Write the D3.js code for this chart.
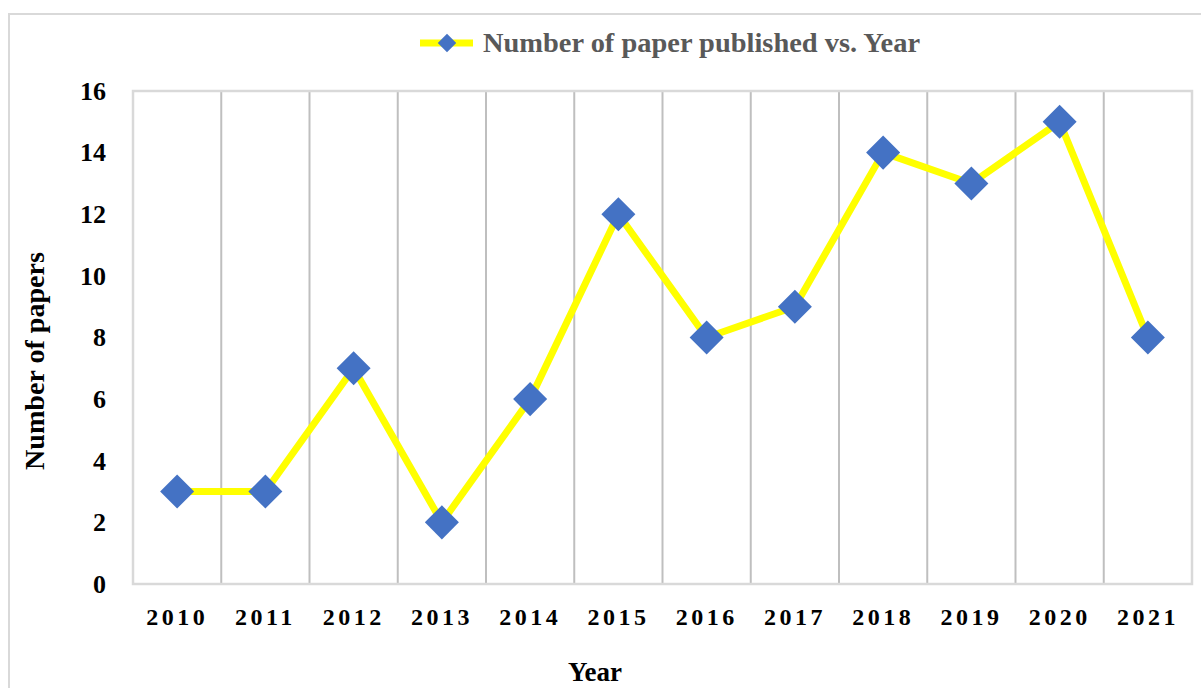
<!DOCTYPE html>
<html>
<head>
<meta charset="utf-8">
<script src="https://cdn.jsdelivr.net/npm/d3@7"></script>
<style>
  body { margin: 0; background: #fff; }
  text { font-family: "Liberation Serif", "DejaVu Serif", serif; font-weight: bold; }
</style>
</head>
<body>
<script>
var years = ['2010', '2011', '2012', '2013', '2014', '2015', '2016', '2017', '2018', '2019', '2020', '2021'];
var papers = [3, 3, 7, 2, 6, 12, 8, 9, 14, 13, 15, 8];
var yTicks = [0, 2, 4, 6, 8, 10, 12, 14, 16];
var seriesName = 'Number of paper published vs. Year';

var scr = { w: 1201, h: 688 };
var plot = { left: 133, right: 1192, top: 91, bottom: 584 }; // plot area box

var svg = d3.select('body')
            .append('svg')
            .attr('width', scr.w)
            .attr('height', scr.h);

// outer chart border
svg.append('rect')
   .attr('x', 9).attr('y', 14)
   .attr('width', 1210).attr('height', 700)
   .attr('fill', 'none')
   .attr('stroke', '#d9d9d9')
   .attr('stroke-width', 2);

var xScale = d3.scaleBand()
               .domain(years)
               .range([plot.left, plot.right]);

var yScale = d3.scaleLinear()
               .domain([0, 16])
               .range([plot.bottom, plot.top]);

// vertical gridlines between categories
svg.append('g')
   .selectAll('line')
   .data(years.slice(1))
   .enter()
   .append('line')
   .attr('x1', function(d){ return xScale(d); })
   .attr('x2', function(d){ return xScale(d); })
   .attr('y1', plot.top)
   .attr('y2', plot.bottom)
   .attr('stroke', '#bfbfbf')
   .attr('stroke-width', 2);

// plot area border
svg.append('rect')
   .attr('x', plot.left).attr('y', plot.top)
   .attr('width', plot.right - plot.left)
   .attr('height', plot.bottom - plot.top)
   .attr('fill', 'none')
   .attr('stroke', '#d9d9d9')
   .attr('stroke-width', 2.5);

// y axis labels
var yAxis = d3.axisLeft(yScale)
              .tickValues(yTicks)
              .tickSize(0)
              .tickPadding(27);
var yG = svg.append('g')
            .attr('transform', 'translate(' + plot.left + ',0)')
            .call(yAxis);
yG.select('.domain').remove();
yG.selectAll('text')
  .style('font-size', '26px')
  .attr('fill', '#000');

// x axis labels
var xAxis = d3.axisBottom(xScale)
              .tickSize(0)
              .tickPadding(24);
var xG = svg.append('g')
            .attr('transform', 'translate(0,' + plot.bottom + ')')
            .call(xAxis);
xG.select('.domain').remove();
xG.selectAll('text')
  .style('font-size', '24px')
  .style('letter-spacing', '3.5px')
  .attr('fill', '#000');

var cx = function(d, i){ return xScale(years[i]) + xScale.bandwidth() / 2; };

var line = d3.line()
             .x(function(d, i){ return cx(d, i); })
             .y(function(d){ return yScale(d); });

svg.append('path')
   .datum(papers)
   .attr('d', line)
   .attr('fill', 'none')
   .attr('stroke', '#ffff00')
   .attr('stroke-width', 7)
   .attr('stroke-linejoin', 'round');

var diamond = d3.symbol().type(d3.symbolSquare).size(580);

svg.append('g')
   .selectAll('path')
   .data(papers)
   .enter()
   .append('path')
   .attr('d', diamond)
   .attr('transform', function(d, i){
     return 'translate(' + cx(d, i) + ',' + yScale(d) + ') rotate(45)';
   })
   .attr('fill', '#4472c4');

// legend
var legend = svg.append('g').attr('transform', 'translate(420,43)');
legend.append('line')
      .attr('x1', 0).attr('x2', 53)
      .attr('y1', 0).attr('y2', 0)
      .attr('stroke', '#ffff00')
      .attr('stroke-width', 7);
legend.append('path')
      .attr('d', d3.symbol().type(d3.symbolSquare).size(170))
      .attr('transform', 'translate(27,0) rotate(45)')
      .attr('fill', '#4472c4');
legend.append('text')
      .attr('x', 63)
      .attr('y', 9)
      .attr('fill', '#595959')
      .attr('textLength', 437)
      .attr('lengthAdjust', 'spacingAndGlyphs')
      .style('font-size', '27px')
      .text(seriesName);

// axis titles
svg.append('text')
   .attr('transform', 'translate(44,361) rotate(-90)')
   .attr('text-anchor', 'middle')
   .attr('textLength', 218)
   .attr('lengthAdjust', 'spacingAndGlyphs')
   .style('font-size', '27px')
   .attr('fill', '#000')
   .text('Number of papers');

svg.append('text')
   .attr('x', 595)
   .attr('y', 681)
   .attr('text-anchor', 'middle')
   .style('font-size', '27px')
   .attr('fill', '#000')
   .text('Year');
</script>
</body>
</html>
